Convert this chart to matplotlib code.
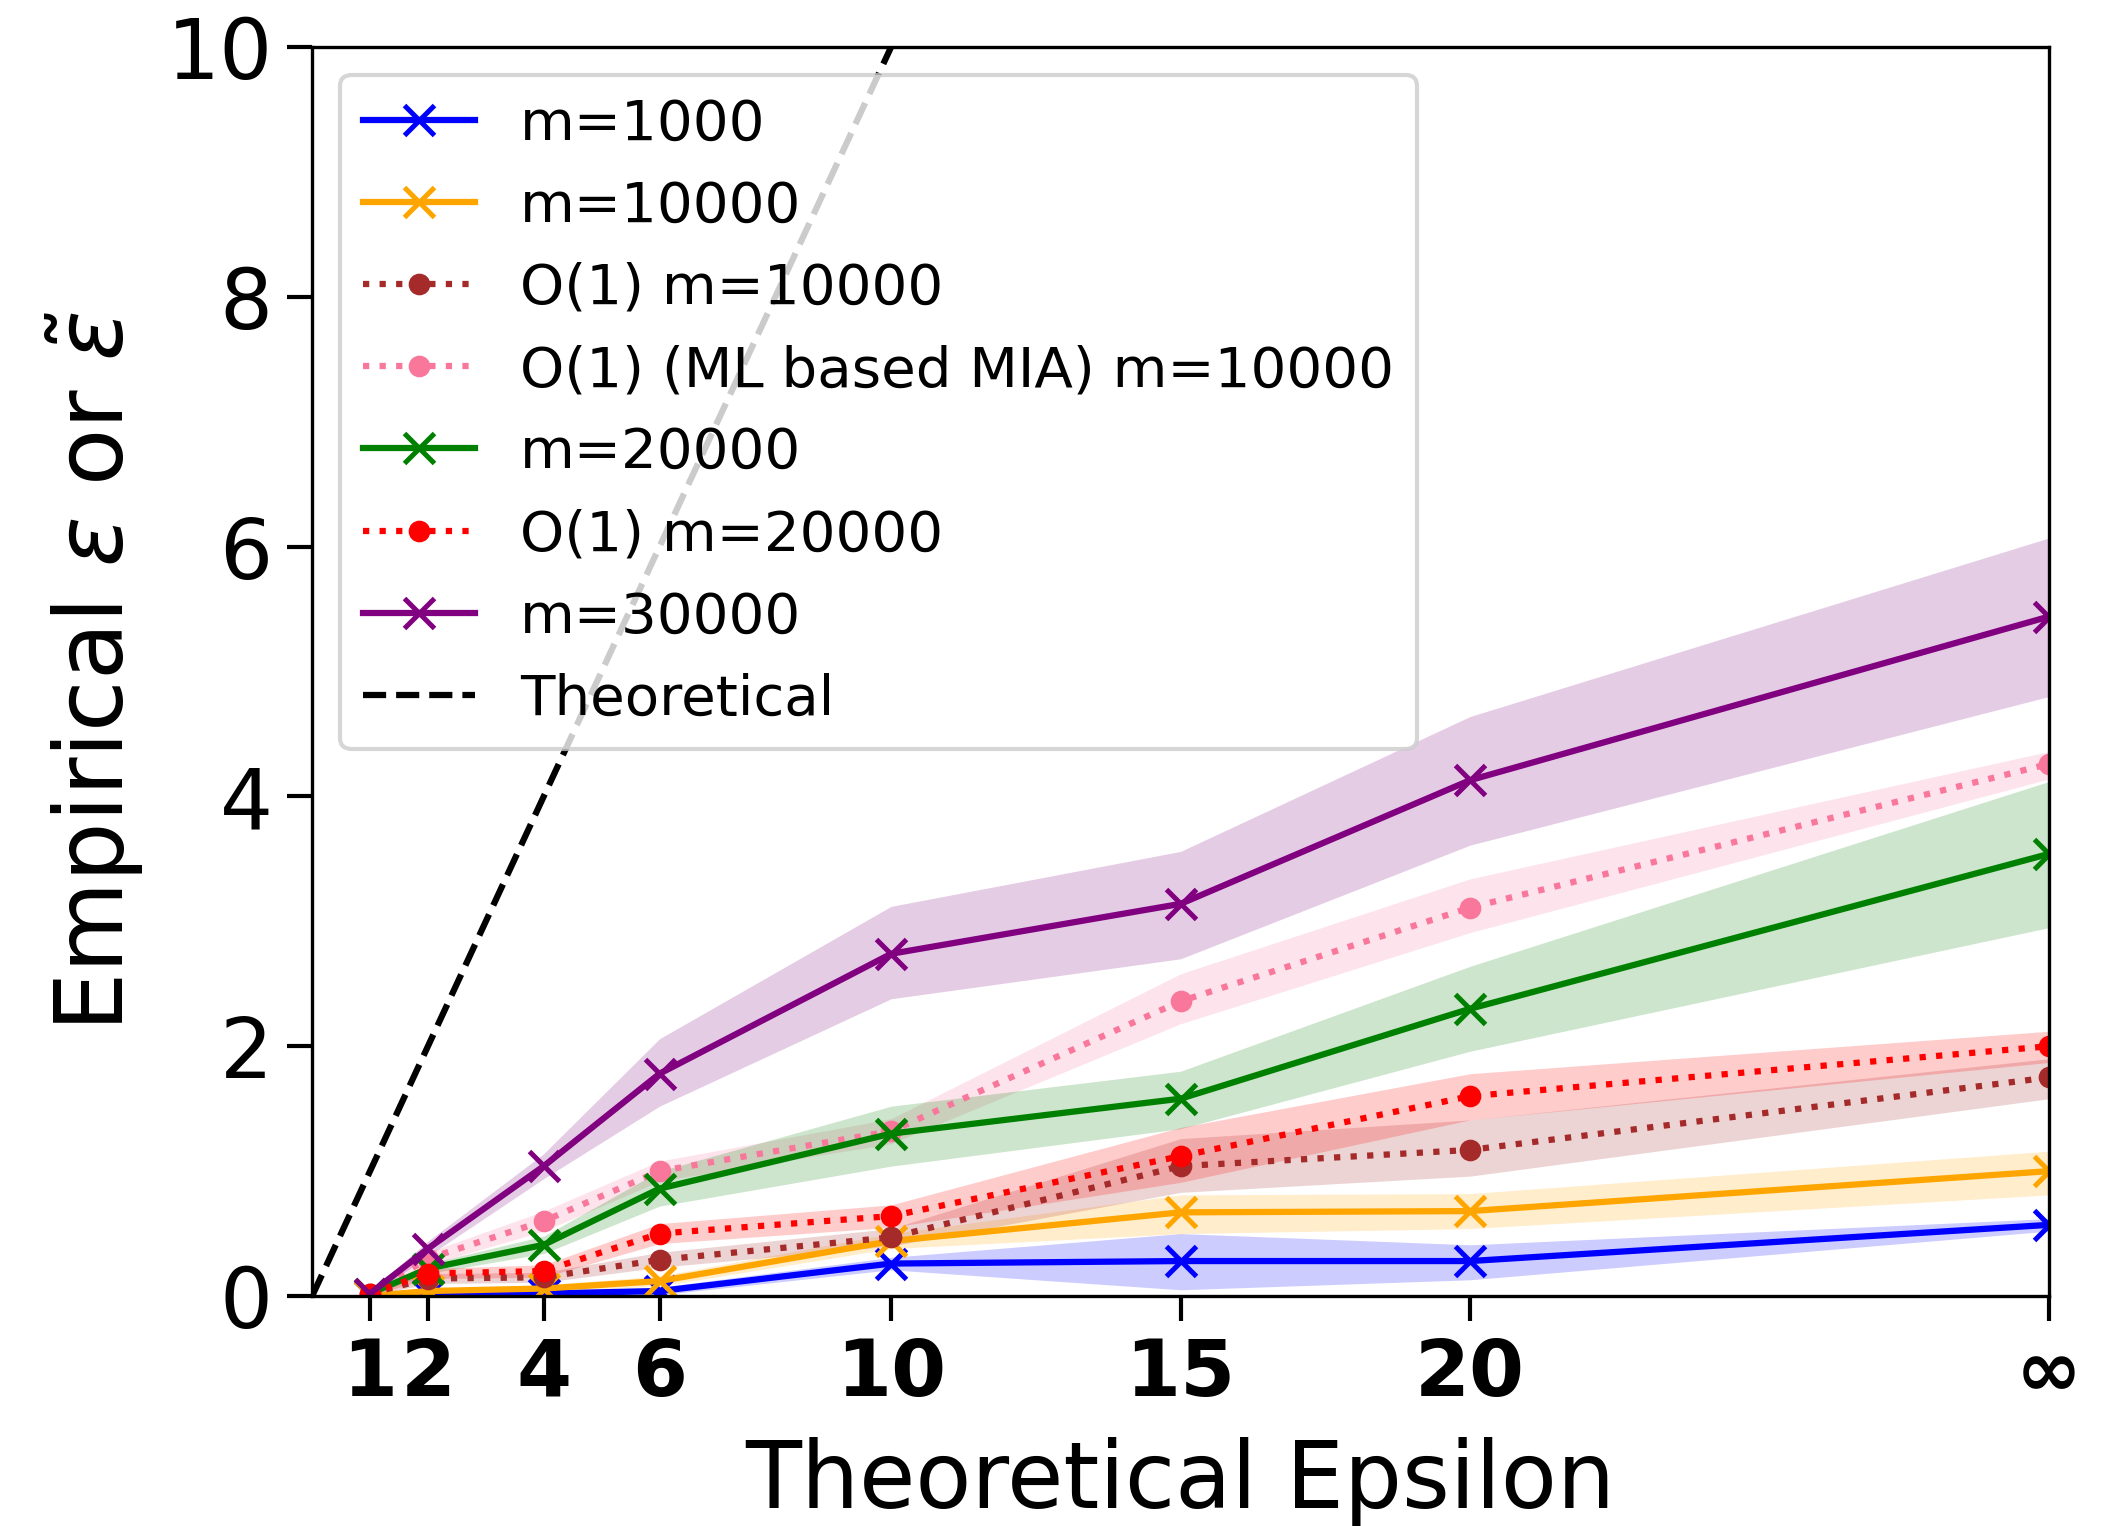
import matplotlib
matplotlib.use("Agg")
import matplotlib.pyplot as plt
import numpy as np

# ---- data ----
eps = [1, 2, 4, 6, 10, 15, 20, 30]          # 30 plotted as "inf"
xtick_labels = ["1", "2", "4", "6", "10", "15", "20", "∞"]

m1000     = [0.00, 0.01, 0.02, 0.04, 0.26, 0.28, 0.28, 0.57]
m1000_lo  = [0.00, 0.00, 0.00, 0.01, 0.21, 0.05, 0.13, 0.52]
m1000_hi  = [0.01, 0.02, 0.04, 0.07, 0.31, 0.50, 0.41, 0.62]

m10000    = [0.00, 0.04, 0.06, 0.12, 0.44, 0.67, 0.68, 1.00]
m10000_lo = [0.00, 0.02, 0.03, 0.08, 0.38, 0.50, 0.54, 0.81]
m10000_hi = [0.01, 0.06, 0.09, 0.16, 0.50, 0.81, 0.82, 1.16]

o1_m10000    = [0.02, 0.14, 0.15, 0.29, 0.47, 1.04, 1.17, 1.75]
o1_m10000_lo = [0.00, 0.10, 0.11, 0.23, 0.40, 0.83, 0.96, 1.58]
o1_m10000_hi = [0.04, 0.18, 0.19, 0.35, 0.54, 1.26, 1.41, 1.90]

ml_m10000    = [0.02, 0.30, 0.60, 1.00, 1.32, 2.36, 3.11, 4.26]
ml_m10000_lo = [0.00, 0.25, 0.52, 0.92, 1.22, 2.18, 2.91, 4.14]
ml_m10000_hi = [0.04, 0.35, 0.68, 1.08, 1.42, 2.58, 3.34, 4.36]

m20000    = [0.02, 0.22, 0.41, 0.86, 1.30, 1.58, 2.30, 3.54]
m20000_lo = [0.00, 0.18, 0.34, 0.72, 1.04, 1.34, 1.96, 2.95]
m20000_hi = [0.04, 0.26, 0.48, 1.00, 1.52, 1.80, 2.64, 4.12]

o1_m20000    = [0.02, 0.18, 0.20, 0.50, 0.64, 1.12, 1.60, 2.00]
o1_m20000_lo = [0.00, 0.14, 0.15, 0.42, 0.55, 0.91, 1.41, 1.87]
o1_m20000_hi = [0.04, 0.22, 0.25, 0.58, 0.73, 1.35, 1.78, 2.12]

m30000    = [0.02, 0.38, 1.04, 1.78, 2.74, 3.14, 4.13, 5.44]
m30000_lo = [0.00, 0.32, 0.94, 1.52, 2.38, 2.70, 3.61, 4.80]
m30000_hi = [0.04, 0.44, 1.14, 2.06, 3.12, 3.56, 4.64, 6.07]

theory_x = [0, 30]
theory_y = [0, 30]

# ---- plot ----
fig = plt.figure(figsize=(2109/300, 1526/300), dpi=300)
ax = fig.add_axes([0.148, 0.1507, 0.8236, 0.8185])

LW = 1.5
series = [
    ("m=1000", m1000, m1000_lo, m1000_hi, "blue", "-", "x"),
    ("m=10000", m10000, m10000_lo, m10000_hi, "orange", "-", "x"),
    ("O(1) m=10000", o1_m10000, o1_m10000_lo, o1_m10000_hi, "brown", ":", "."),
    ("O(1) (ML based MIA) m=10000", ml_m10000, ml_m10000_lo, ml_m10000_hi, "#f8779b", ":", "."),
    ("m=20000", m20000, m20000_lo, m20000_hi, "green", "-", "x"),
    ("O(1) m=20000", o1_m20000, o1_m20000_lo, o1_m20000_hi, "red", ":", "."),
    ("m=30000", m30000, m30000_lo, m30000_hi, "purple", "-", "x"),
]
for label, y, lo, hi, c, ls, mk in series:
    ms = 7 if mk == "x" else 8
    ax.plot(eps, y, color=c, linestyle=ls, marker=mk, markersize=ms,
            linewidth=LW, markeredgewidth=1.2, label=label)
    ax.fill_between(eps, lo, hi, color=c, alpha=0.2, linewidth=0)

ax.plot(theory_x, theory_y, "k--", linewidth=LW, label="Theoretical")

ax.set_xlim(0, 30)
ax.set_ylim(0, 10)
ax.set_xticks(eps)
ax.set_xticklabels(xtick_labels, fontsize=19, fontweight="bold")
ax.set_yticks([0, 2, 4, 6, 8, 10])
ax.tick_params(axis="both", length=6, width=1.0)
ax.tick_params(axis="y", labelsize=20)
ax.set_xlabel("Theoretical Epsilon", fontsize=22, labelpad=6)
ax.set_ylabel(r"Empirical $\varepsilon$ or $\tilde{\varepsilon}$", fontsize=22.5, labelpad=5)

ax.legend(loc="upper left", fontsize=13.5)

fig.savefig("out.png", dpi=300)
